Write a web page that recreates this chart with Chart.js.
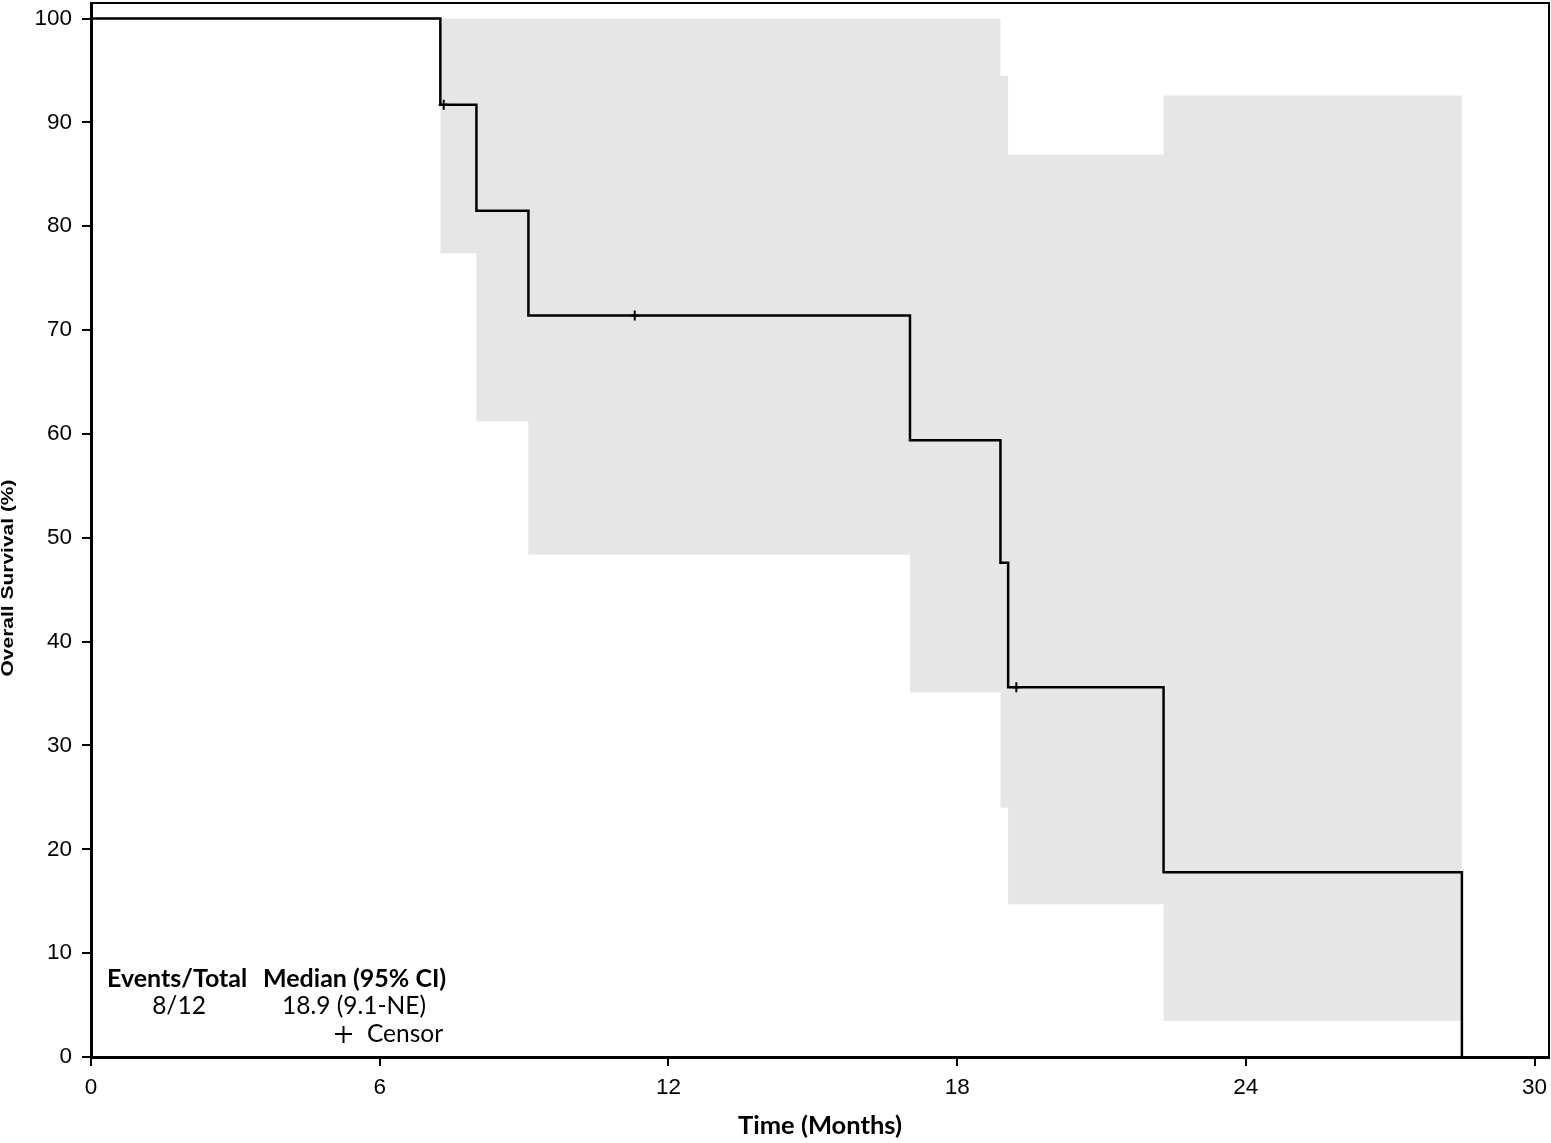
<!doctype html>
<html lang="en">
  <head>
    <meta charset="utf-8">
    <title>Overall Survival</title>
    <script src="https://cdn.jsdelivr.net/npm/chart.js@4.4.0/dist/chart.umd.min.js"></script>
    <style>
      html, body { margin: 0; padding: 0; background: #fff; }
      #wrap { width: 1551px; height: 1143px; }
    </style>
  </head>

  <body>
    <div id="wrap"><canvas id="km"></canvas></div>
  </body>

  <script>
    // Kaplan-Meier step curve (months, % surviving)
    var kmTime = [0, 7.26, 8.01, 9.09, 17.02, 18.90, 19.06, 22.29, 28.49];
    var kmSurv = [100, 91.7, 81.5, 71.4, 59.4, 47.6, 35.6, 17.8, 0];

    // censored observations
    var censorTime = [7.33, 11.30, 19.23];
    var censorSurv = [91.7, 71.4, 35.6];

    // 95% confidence band (value holds from this time to the next one)
    var ciTime  = [7.26, 8.01, 9.09, 17.02, 18.90, 19.06, 22.29, 28.49];
    var ciUpper = [100, 100, 100, 100, 94.5, 86.9, 92.6, 92.6];
    var ciLower = [77.4, 61.2, 48.4, 35.1, 24.0, 14.7, 3.5, 3.5];

    var xTicks = [0, 6, 12, 18, 24, 30];
    var yTicks = [0, 10, 20, 30, 40, 50, 60, 70, 80, 90, 100];

    var legendHead = ["Events/Total", "Median (95% CI)"];
    var legendVals = ["8/12", "18.9 (9.1-NE)"];
    var censorLabel = "Censor";
    var yTitle = "Overall Survival (%)";

    function pts(xs, ys) {
      var out = [];
      for (var i = 0; i < xs.length; i++) out.push({x: xs[i], y: ys[i]});
      return out;
    }

    // full box round the plot, the y title and the little summary table
    var boxAndTable = {
      id: 'boxAndTable',
      afterDatasetsDraw: function(chart) {
        var c = chart.ctx, a = chart.chartArea;
        c.save();
        c.strokeStyle = '#000';
        c.lineWidth = 2;
        c.beginPath();
        c.moveTo(a.left, a.top);
        c.lineTo(a.right, a.top);
        c.lineTo(a.right, a.bottom);
        c.stroke();

        c.fillStyle = '#000';
        c.textBaseline = 'middle';
        c.textAlign = 'left';
        c.font = 'bold 25px Lato, "Open Sans", sans-serif';
        c.fillText(legendHead[0], 107, 979);
        c.fillText(legendHead[1], 263, 979);
        c.font = '24.5px Lato, "Open Sans", sans-serif';
        c.textAlign = 'center';
        c.fillText(legendVals[0], 179, 1006);
        c.fillText(legendVals[1], 354, 1006);
        c.textAlign = 'left';
        c.fillText(censorLabel, 367, 1034);
        // + symbol for censor
        c.lineWidth = 2;
        c.beginPath();
        c.moveTo(335, 1034); c.lineTo(352, 1034);
        c.moveTo(343.5, 1026); c.lineTo(343.5, 1043);
        c.stroke();

        // rotated y title, a bit stretched like the original
        c.font = 'bold 16px "Liberation Sans", Arial, sans-serif';
        var w = c.measureText(yTitle).width;
        c.translate(8.5, 578);
        c.rotate(-Math.PI / 2);
        c.scale(197 / w, 1);
        c.textAlign = 'center';
        c.fillText(yTitle, 0, 0);
        c.restore();
      }
    };

    var ctx = document.getElementById('km').getContext('2d');
    var chart = new Chart(ctx, {
      type: 'line',
      data: {
        datasets: [
          {
            label: 'upper',
            data: pts(ciTime, ciUpper),
            stepped: 'before',
            borderWidth: 0,
            borderColor: 'rgba(0,0,0,0)',
            pointRadius: 0,
            fill: false,
            order: 3
          },
          {
            label: 'lower',
            data: pts(ciTime, ciLower),
            stepped: 'before',
            borderWidth: 0,
            borderColor: 'rgba(0,0,0,0)',
            backgroundColor: '#e6e6e6',
            pointRadius: 0,
            fill: '-1',
            order: 2
          },
          {
            label: 'km',
            data: pts(kmTime, kmSurv),
            stepped: 'before',
            borderColor: '#000',
            borderWidth: 2.5,
            pointRadius: 0,
            fill: false,
            order: 1
          },
          {
            label: 'censor',
            type: 'scatter',
            data: pts(censorTime, censorSurv),
            pointStyle: 'cross',
            pointRadius: 5,
            borderColor: '#000',
            borderWidth: 2,
            showLine: false,
            order: 0
          }
        ]
      },
      options: {
        responsive: true,
        maintainAspectRatio: false,
        animation: false,
        layout: { autoPadding: false, padding: { top: 3, right: 2, left: 0, bottom: 0 } },
        plugins: {
          legend: { display: false },
          tooltip: { enabled: false }
        },
        scales: {
          x: {
            type: 'linear',
            min: 0,
            max: 30.3,
            afterBuildTicks: function(s) { s.ticks = xTicks.map(function(v) { return {value: v}; }); },
            afterFit: function(s) { s.height = 86; s.paddingLeft = 0; s.paddingRight = 0; },
            border: { display: true, color: '#000', width: 3 },
            grid: { drawOnChartArea: false, drawTicks: true, tickLength: 9, color: '#000', lineWidth: 2 },
            ticks: { color: '#000', padding: 8, maxRotation: 0, font: { family: '"Liberation Sans", Arial, sans-serif', size: 22.5 } },
            title: {
              display: true,
              text: 'Time (Months)',
              color: '#000',
              padding: { top: 0, bottom: 2 },
              font: { family: 'Lato, "Open Sans", sans-serif', size: 25.5, weight: 'bold' }
            }
          },
          y: {
            min: 0,
            max: 101.5,
            afterBuildTicks: function(s) { s.ticks = yTicks.map(function(v) { return {value: v}; }); },
            afterFit: function(s) { s.width = 91; s.paddingTop = 0; s.paddingBottom = 0; },
            border: { display: true, color: '#000', width: 3 },
            grid: { drawOnChartArea: false, drawTicks: true, tickLength: 9, color: '#000', lineWidth: 2 },
            ticks: { color: '#000', padding: 10, font: { family: '"Liberation Sans", Arial, sans-serif', size: 22.5 } },
            title: { display: false }
          }
        }
      },
      plugins: [boxAndTable]
    });
  </script>
</html>
